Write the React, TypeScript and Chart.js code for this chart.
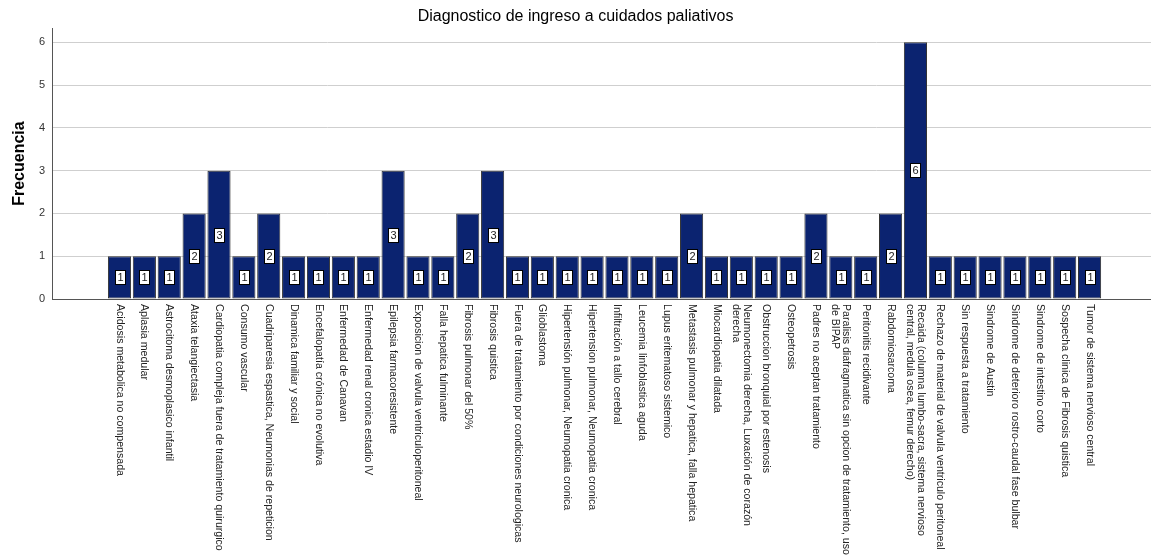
import React, { useEffect, useRef } from "react";
import { Chart, registerables } from "chart.js";

Chart.register(...registerables);

const chartTitle = "Diagnostico de ingreso a cuidados paliativos";
const yAxisTitle = "Frecuencia";

const categories: (string | string[])[] = [
  "Acidosis metabolica no compensada",
  "Aplasia medular",
  "Astrocitoma desmoplasico infantil",
  "Ataxia telangiectasia",
  "Cardiopatia compleja fuera de tratamiento quirurgico",
  "Consumo vascular",
  "Cuadriparesia espastica, Neumonias de repeticion",
  "Dinamica familiar y social",
  "Encefalopatía crónica no evolutiva",
  "Enfermedad de Canavan",
  "Enfermedad renal cronica estadio IV",
  "Epilepsia farmacoresistente",
  "Exposicion de valvula ventriculoperitoneal",
  "Falla hepatica fulminante",
  "Fibrosis pulmonar del 50%",
  "Fibrosis quistica",
  "Fuera de tratamiento por condiciones neurologicas",
  "Glioblastoma",
  "Hipertensión pulmonar, Neumopatia cronica",
  "Hipertension pulmonar, Neumopatia cronica",
  "Infiltración a tallo cerebral",
  "Leucemia linfoblastica aguda",
  "Lupus eritematoso sistemico",
  "Metastasis pulmonar y hepatica, falla hepatica",
  "Miocardiopatia dilatada",
  ["Neumonectomia derecha, Luxación de corazón", "derecha"],
  "Obstruccion bronquial por estenosis",
  "Osteopetrosis",
  "Padres no aceptan tratamiento",
  ["Paralisis diafragmatica sin opcion de tratamiento, uso", "de BIPAP"],
  "Peritonitis recidivante",
  "Rabdomiosarcoma",
  ["Recaida (columna lumbo-sacra, sistema nervioso", "central, medula osea, femur derecho)"],
  "Rechazo de material de valvula ventriculo peritoneal",
  "Sin respuesta a tratamiento",
  "Sindrome de Austin",
  "Sindrome de deterioro rostro-caudal fase bulbar",
  "Sindrome de intestino corto",
  "Sospecha clinica de Fibrosis quistica",
  "Tumor de sistema nervioso central",
];

const frecuencias: number[] = [
  1, 1, 1, 2, 3, 1, 2, 1, 1, 1,
  1, 3, 1, 1, 2, 3, 1, 1, 1, 1,
  1, 1, 1, 2, 1, 1, 1, 1, 2, 1,
  1, 2, 6, 1, 1, 1, 1, 1, 1, 1,
];

const yTickValues: number[] = [0, 1, 2, 3, 4, 5, 6];

const FONT = "'Liberation Sans', Arial, sans-serif";
const X_MIN = -2.714;
const X_MAX = 41.47;

export default function App() {
  const ref = useRef<HTMLCanvasElement>(null);

  useEffect(() => {
    document.body.style.margin = "0";
    if (!ref.current) return;

    const xLabelPlugin = {
      id: "xLabelsRotated",
      afterDraw(chart: any) {
        const ctx = chart.ctx;
        const xs = chart.scales.x;
        const top = chart.chartArea.bottom + 5;
        ctx.save();
        ctx.font = `10.6px ${FONT}`;
        ctx.fillStyle = "#222";
        ctx.textAlign = "left";
        ctx.textBaseline = "middle";
        categories.forEach((lab, i) => {
          const lines = Array.isArray(lab) ? lab : [lab];
          const x = xs.getPixelForValue(i);
          ctx.save();
          ctx.translate(x, top);
          ctx.rotate(Math.PI / 2);
          lines.forEach((ln, j) => {
            ctx.fillText(ln, 0, (j - (lines.length - 1) / 2) * 11);
          });
          ctx.restore();
        });
        ctx.restore();
      },
    };

    const valueLabelPlugin = {
      id: "valueBoxes",
      afterDatasetsDraw(chart: any) {
        const ctx = chart.ctx;
        const meta = chart.getDatasetMeta(0);
        ctx.save();
        ctx.font = `11px ${FONT}`;
        ctx.textAlign = "center";
        ctx.textBaseline = "middle";
        meta.data.forEach((el: any, i: number) => {
          const txt = String(frecuencias[i]);
          const w = Math.round(ctx.measureText(txt).width + 4);
          const h = 14;
          const cx = Math.round(el.x);
          const cy = Math.round((el.y + el.base) / 2);
          const x0 = Math.round(cx - w / 2) + 0.5;
          const y0 = Math.round(cy - h / 2) + 0.5;
          ctx.fillStyle = "#ffffff";
          ctx.fillRect(x0, y0, w, h);
          ctx.strokeStyle = "#000000";
          ctx.lineWidth = 1;
          ctx.strokeRect(x0, y0, w, h);
          ctx.fillStyle = "#222";
          ctx.fillText(txt, x0 + w / 2, cy + 1);
        });
        ctx.restore();
      },
    };

    const chart = new Chart(ref.current, {
      type: "bar",
      data: {
        datasets: [
          {
            label: yAxisTitle,
            data: categories.map((_, i) => ({ x: i, y: frecuencias[i] })),
            backgroundColor: "#0b2370",
            borderColor: "#333333",
            borderWidth: 1,
            borderSkipped: false,
            categoryPercentage: 1,
            barPercentage: 0.93,
          },
        ],
      },
      options: {
        responsive: false,
        animation: false,
        devicePixelRatio: 1,
        layout: { padding: 0 },
        plugins: {
          legend: { display: false },
          tooltip: { enabled: false },
          title: {
            display: true,
            text: chartTitle,
            color: "#000",
            font: { family: FONT, size: 16, weight: "normal" },
            padding: { top: 7, bottom: 2 },
          },
        },
        scales: {
          x: {
            type: "linear",
            bounds: "data",
            offset: false,
            min: X_MIN,
            max: X_MAX,
            ticks: { display: false },
            grid: { display: false },
            border: { display: true, color: "#555", width: 1 },
            afterBuildTicks: (s: any) => {
              s.min = X_MIN;
              s.max = X_MAX;
            },
            afterFit: (s: any) => {
              s.height = 258;
            },
          },
          y: {
            min: 0,
            max: 6.33,
            ticks: {
              stepSize: 1,
              includeBounds: false,
              padding: 7,
              color: "#333",
              font: { family: FONT, size: 11 },
              callback: (v: any) => (yTickValues.includes(Number(v)) ? String(v) : ""),
            },
            grid: { color: "#cfcfcf", drawTicks: false, lineWidth: 1 },
            border: { display: true, color: "#555", width: 1 },
            title: {
              display: true,
              text: yAxisTitle,
              color: "#000",
              font: { family: FONT, size: 16, weight: "bold" },
              padding: { top: 10, bottom: 0 },
            },
            afterFit: (s: any) => {
              s.width = 52;
            },
          },
        },
      },
      plugins: [xLabelPlugin, valueLabelPlugin],
    } as any);

    return () => chart.destroy();
  }, []);

  return <canvas ref={ref} width={1151} height={557} style={{ display: "block" }} />;
}
